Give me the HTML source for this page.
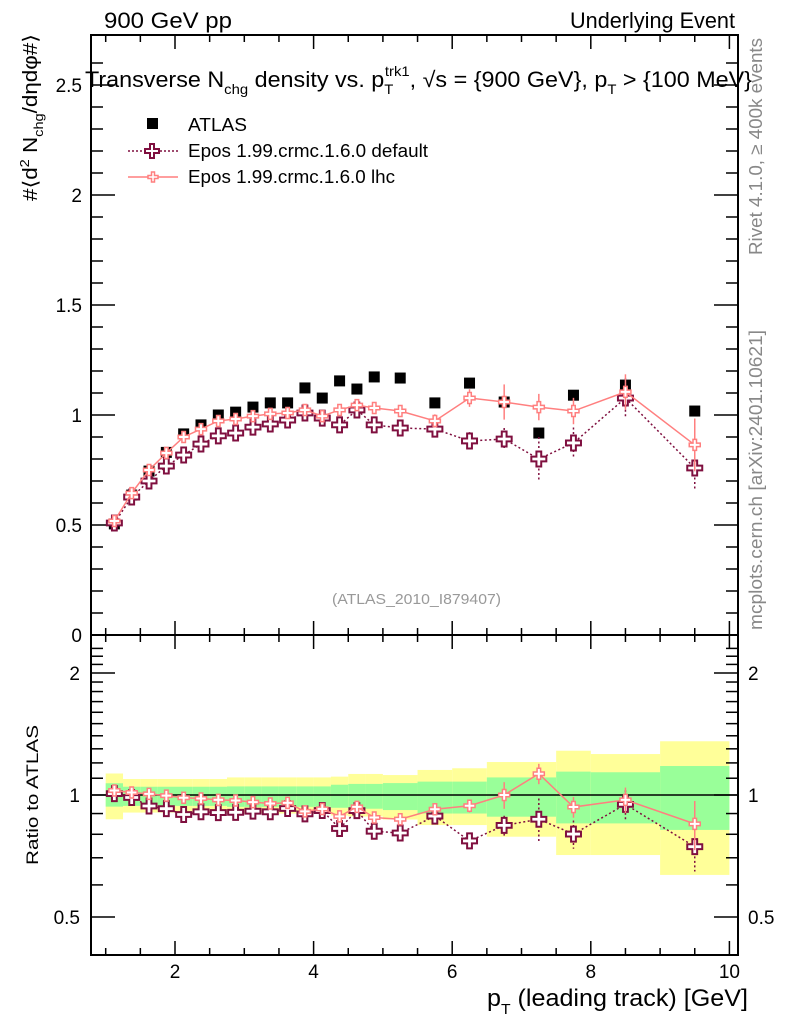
<!DOCTYPE html>
<html><head><meta charset="utf-8"><style>
body{margin:0;background:#fff;}
svg{display:block;font-family:"Liberation Sans",sans-serif;}
</style></head><body>
<svg id="c" width="786" height="1024" viewBox="0 0 786 1024" xmlns="http://www.w3.org/2000/svg">
<g id="bands"></g><g id="grid"></g><g id="series"></g>
<rect x="91" y="35" width="647" height="600" fill="none" stroke="#000" stroke-width="2"/>
<rect x="91" y="635" width="647" height="320" fill="none" stroke="#000" stroke-width="2"/>
<text x="104" y="28" font-size="22" textLength="128" lengthAdjust="spacingAndGlyphs">900 GeV pp</text>
<text x="570" y="28" font-size="22" textLength="165" lengthAdjust="spacingAndGlyphs">Underlying Event</text>
<text x="85" y="87" font-size="22" textLength="667" lengthAdjust="spacingAndGlyphs">Transverse N<tspan font-size="14" dy="7">chg</tspan><tspan dy="-7"> density vs. p</tspan><tspan font-size="14" dy="7">T</tspan><tspan font-size="14" dy="-18" dx="-8">trk1</tspan><tspan dy="11">, √s = {900 GeV}, p</tspan><tspan font-size="14" dy="7">T</tspan><tspan dy="-7"> &gt; {100 MeV}</tspan></text>
<text transform="translate(762,255) rotate(-90)" font-size="18" fill="#888" textLength="217" lengthAdjust="spacingAndGlyphs">Rivet 4.1.0, ≥ 400k events</text>
<text transform="translate(762,630) rotate(-90)" font-size="18" fill="#888" textLength="300" lengthAdjust="spacingAndGlyphs">mcplots.cern.ch [arXiv:2401.10621]</text>
<text transform="translate(37,201) rotate(-90)" font-size="20" textLength="167" lengthAdjust="spacingAndGlyphs">#⟨d<tspan font-size="13" dy="-8">2</tspan><tspan dy="8"> N</tspan><tspan font-size="13" dy="6">chg</tspan><tspan dy="-6">/dηdφ#⟩</tspan></text>
<text transform="translate(38,865) rotate(-90)" font-size="17" textLength="140" lengthAdjust="spacingAndGlyphs">Ratio to ATLAS</text>
<text x="332" y="604" font-size="15" fill="#999" textLength="169" lengthAdjust="spacingAndGlyphs">(ATLAS_2010_I879407)</text>
<text x="487" y="1006" font-size="24" textLength="261" lengthAdjust="spacingAndGlyphs">p<tspan font-size="15" dy="8">T</tspan><tspan dy="-8"> (leading track) [GeV]</tspan></text>
<g>
<rect x="147" y="118" width="11" height="11" fill="#000"/>
<text x="188" y="131" font-size="18" textLength="59" lengthAdjust="spacingAndGlyphs">ATLAS</text>
<line x1="128" y1="151" x2="178" y2="151" stroke="#7f0f3f" stroke-width="1.5" stroke-dasharray="2,2"/>
<path d="M150,144h4v5h5v4h-5v5h-4v-5h-5v-4h5z" fill="#fff" stroke="#7f0f3f" stroke-width="2"/>
<text x="188" y="157" font-size="18" textLength="240" lengthAdjust="spacingAndGlyphs">Epos 1.99.crmc.1.6.0 default</text>
<line x1="128" y1="177" x2="178" y2="177" stroke="#ff7f7f" stroke-width="1.5"/>
<path d="M151.5,172h3v3.5h3.5v3h-3.5v3.5h-3v-3.5h-3.5v-3h3.5z" fill="#fff" stroke="#ff7f7f" stroke-width="1.5"/>
<text x="188" y="183" font-size="18" textLength="207" lengthAdjust="spacingAndGlyphs">Epos 1.99.crmc.1.6.0 lhc</text>
</g>
</svg>
<script>
const xs=[1.125,1.375,1.625,1.875,2.125,2.375,2.625,2.875,3.125,3.375,3.625,3.875,4.125,4.375,4.625,4.875,5.25,5.75,6.25,6.75,7.25,7.75,8.5,9.5];
const binEdges=[1.0,1.25,1.5,1.75,2.0,2.25,2.5,2.75,3.0,3.25,3.5,3.75,4.0,4.25,4.5,4.75,5.0,5.5,6.0,6.5,7.0,7.5,8.0,9.0,10.0];
const atlas=[0.505,0.636,0.745,0.83,0.914,0.955,1.0,1.013,1.036,1.055,1.055,1.123,1.077,1.155,1.118,1.173,1.168,1.055,1.145,1.059,0.918,1.09,1.136,1.018];
const epDefault=[0.509,0.627,0.7,0.768,0.818,0.868,0.905,0.918,0.945,0.959,0.977,1.009,0.986,0.955,1.023,0.955,0.941,0.936,0.882,0.891,0.8,0.873,1.077,0.759];
const epLhc=[0.518,0.645,0.75,0.827,0.9,0.936,0.973,0.982,0.995,1.005,1.009,1.023,0.995,1.023,1.045,1.032,1.018,0.973,1.077,1.059,1.036,1.018,1.105,0.864];
const errDefault=[0.005,0.005,0.005,0.006,0.006,0.007,0.007,0.008,0.008,0.009,0.01,0.011,0.012,0.013,0.015,0.017,0.02,0.03,0.04,0.05,0.1,0.07,0.09,0.1];
const errLhc=[0.005,0.005,0.005,0.006,0.006,0.007,0.007,0.008,0.008,0.009,0.01,0.011,0.012,0.013,0.015,0.017,0.02,0.03,0.04,0.08,0.06,0.06,0.08,0.12];
const yellowHi=[1.13,1.095,1.095,1.095,1.095,1.095,1.095,1.105,1.105,1.105,1.105,1.105,1.105,1.11,1.127,1.127,1.12,1.153,1.164,1.206,1.206,1.286,1.262,1.357];
const yellowLo=[0.871,0.905,0.905,0.905,0.905,0.905,0.905,0.9,0.9,0.9,0.9,0.9,0.9,0.89,0.885,0.885,0.87,0.843,0.843,0.789,0.789,0.711,0.711,0.635];
const greenHi=[1.069,1.048,1.048,1.048,1.048,1.048,1.048,1.05,1.05,1.05,1.05,1.05,1.05,1.06,1.065,1.065,1.07,1.079,1.079,1.105,1.105,1.142,1.138,1.179];
const greenLo=[0.936,0.94,0.94,0.94,0.94,0.94,0.94,0.935,0.935,0.935,0.935,0.935,0.935,0.93,0.925,0.925,0.918,0.9,0.9,0.884,0.884,0.851,0.851,0.82];
const xTicks=[2,4,6,8,10];
const yTicks=[0,0.5,1,1.5,2,2.5];
const rTicks=[0.5,1,2];

const NS="http://www.w3.org/2000/svg";
const X=v=>36.4+69.3*v;
const Y=v=>635-220*v;
const R=v=>795-122*Math.log2(v);
const RC=v=>Math.max(636,Math.min(954,R(v)));
function mk(p,tag,a){const e=document.createElementNS(NS,tag);for(const k in a)e.setAttribute(k,a[k]);p.appendChild(e);return e;}
const gB=document.getElementById('bands'),gG=document.getElementById('grid'),gS=document.getElementById('series');

for(let i=0;i<binEdges.length-1;i++){
  const x1=X(binEdges[i]),x2=X(binEdges[i+1]);
  const y=mk(gB,'rect',{x:x1,y:RC(yellowHi[i]),width:x2-x1,height:RC(yellowLo[i])-RC(yellowHi[i]),fill:'#ffff99'});
  
  
  const g=mk(gB,'rect',{x:x1,y:RC(greenHi[i]),width:x2-x1,height:RC(greenLo[i])-RC(greenHi[i]),fill:'#99ff99'});
  
  
}
const one=mk(gB,'line',{x1:91,x2:738,y1:R(1),y2:R(1),stroke:'#000','stroke-width':1.5});



for(let v=1;v<=10;v+=0.5){
  const big=Number.isInteger(v)&&v%2===0;
  const L=big?14:7;
  [35,635].forEach(y0=>mk(gG,'line',{x1:X(v),x2:X(v),y1:y0,y2:y0+L,stroke:'#000','stroke-width':1.5}));
  [635,955].forEach(y0=>mk(gG,'line',{x1:X(v),x2:X(v),y1:y0,y2:y0-L,stroke:'#000','stroke-width':1.5}));
}
xTicks.forEach(v=>{const t=mk(gG,'text',{x:X(v),y:978,'font-size':19,'text-anchor':'middle'});t.textContent=v;

});
for(let v=0;v<=2.7;v+=0.1){
  const big=Math.abs(v*2-Math.round(v*2))<1e-6;const L=big?24:12;const y=Y(v);
  if(y<35)continue;
  mk(gG,'line',{x1:91,x2:91+L,y1:y,y2:y,stroke:'#000','stroke-width':1.5});
  mk(gG,'line',{x1:738,x2:738-L,y1:y,y2:y,stroke:'#000','stroke-width':1.5});
}
yTicks.forEach(v=>{const t=mk(gG,'text',{x:82,y:Y(v)+7,'font-size':19,'text-anchor':'end'});t.textContent=v;

});
[0.5,0.6,0.7,0.8,0.9,1,1.1,1.2,1.3,1.4,1.5,1.6,1.7,1.8,1.9,2,2.1,2.2,2.3].forEach(v=>{
  const big=rTicks.includes(v);const L=big?24:12;const y=R(v);if(y<636||y>954)return;
  mk(gG,'line',{x1:91,x2:91+L,y1:y,y2:y,stroke:'#000','stroke-width':1.5});
  mk(gG,'line',{x1:738,x2:738-L,y1:y,y2:y,stroke:'#000','stroke-width':1.5});
});
rTicks.forEach(v=>{
  let t=mk(gG,'text',{x:80,y:R(v)+7,'font-size':19,'text-anchor':'end'});t.textContent=v;
  
  
  t=mk(gG,'text',{x:748,y:R(v)+7,'font-size':19});t.textContent=v;
  
  
});

function cross(x,y,s,col,sw){
  const a=s*0.16,b=s/2;
  const d=`M${x-a},${y-b}h${2*a}v${b-a}h${b-a}v${2*a}h${-(b-a)}v${b-a}h${-2*a}v${-(b-a)}h${-(b-a)}v${-2*a}h${b-a}z`;
  return mk(gS,'path',{d,fill:'#fff',stroke:col,'stroke-width':sw});
}
function drawSeries(vals,errs,col,dash,size,sw,name){
  const pm=xs.map((x,i)=>[X(x),Y(vals[i])]);
  const pr=xs.map((x,i)=>[X(x),RC(vals[i]/atlas[i])]);
  const l1=mk(gS,'polyline',{points:pm.join(' '),fill:'none',stroke:col,'stroke-width':1.5,'stroke-dasharray':dash});
  
  
  const l2=mk(gS,'polyline',{points:pr.join(' '),fill:'none',stroke:col,'stroke-width':1.5,'stroke-dasharray':dash});
  
  
  xs.forEach((x,i)=>{
    const px=X(x);
    mk(gS,'line',{x1:px,x2:px,y1:Y(vals[i]+errs[i]),y2:Y(vals[i]-errs[i]),stroke:col,'stroke-width':1.5,'stroke-dasharray':dash});
    mk(gS,'line',{x1:px,x2:px,y1:RC((vals[i]+errs[i])/atlas[i]),y2:RC((vals[i]-errs[i])/atlas[i]),stroke:col,'stroke-width':1.5,'stroke-dasharray':dash});
    const m=cross(px,Y(vals[i]),size,col,sw);
    
    
    const r=cross(px,RC(vals[i]/atlas[i]),size,col,sw);
    
    
  });
}
xs.forEach((x,i)=>{
  const r=mk(gS,'rect',{x:X(x)-5.5,y:Y(atlas[i])-5.5,width:11,height:11,fill:'#000'});
  
  
});
drawSeries(epDefault,errDefault,'#7f0f3f','2,2.5',15,2,'epos-default');
drawSeries(epLhc,errLhc,'#ff7f7f','',11,1.5,'epos-lhc');
</script>
</body></html>
